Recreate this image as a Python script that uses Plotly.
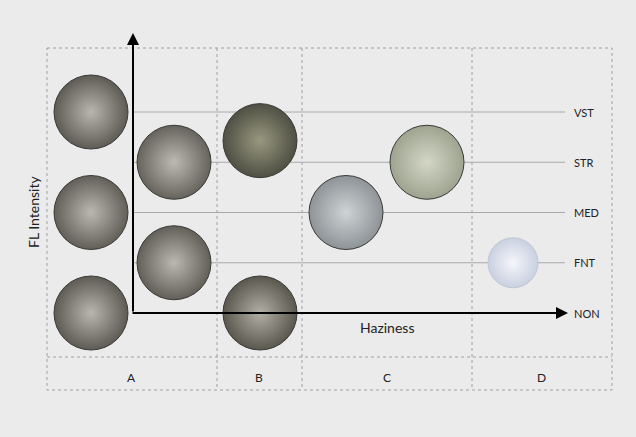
import plotly.graph_objects as go

levels = ["NON", "FNT", "MED", "STR", "VST"]
columns = ["A", "B", "C", "D"]
col_centers = [131, 259, 387, 541]
col_edges = [47, 217, 302, 472, 612]

# diamond photos, as (haziness position in px, intensity level)
stone_x = [91, 91, 91, 174, 174, 260, 260, 346, 427]
stone_y = [4, 2, 0, 3, 1, 3.43, 0, 2, 3]
stone_edge = ["#5e5b55", "#625f58", "#5e5b55", "#66635c", "#625f58",
              "#4f4f44", "#5a574e", "#8d9396", "#9ea390"]
stone_core = ["#b9b6b0", "#bbb8b2", "#b9b6b0", "#bdbab4", "#bbb8b2",
              "#98987f", "#b2afa6", "#cfd3d6", "#d4d7c6"]
oval_x = [513]
oval_y = [1]

px = 50.25

fig = go.Figure()

# level guide lines
for i, lab in enumerate(levels):
    if i > 0:
        fig.add_shape(type="line", x0=133, x1=565, y0=i, y1=i, layer="below",
                      line=dict(color="#a9a9a9", width=1))
    fig.add_annotation(x=572, y=i, text=lab, showarrow=False, xanchor="left",
                       font=dict(size=11, color="#222"))

# dashed boxes
top, bot, mid = (313 - 48) / px, (313 - 390) / px, (313 - 357) / px
fig.add_shape(type="rect", x0=47, x1=612, y0=top, y1=bot, layer="below",
              line=dict(color="#a0a0a0", width=1, dash="dot"))
fig.add_shape(type="line", x0=47, x1=612, y0=mid, y1=mid, layer="below",
              line=dict(color="#a0a0a0", width=1, dash="dot"))
for e in col_edges[1:-1]:
    fig.add_shape(type="line", x0=e, x1=e, y0=top, y1=bot, layer="below",
                  line=dict(color="#a0a0a0", width=1, dash="dot"))
for c, lab in zip(col_centers, columns):
    fig.add_annotation(x=c, y=(313 - 377) / px, text=lab, showarrow=False,
                       font=dict(size=12, color="#222"))

fig.add_trace(go.Scatter(
    x=stone_x, y=stone_y, mode="markers", hoverinfo="skip",
    marker=dict(size=74, color=stone_edge, symbol="circle",
                gradient=dict(type="radial", color=stone_core),
                line=dict(color="#3a3a36", width=1))))
fig.add_trace(go.Scatter(
    x=oval_x, y=oval_y, mode="markers", hoverinfo="skip",
    marker=dict(size=50, color="#c9d0e0", symbol="circle",
                gradient=dict(type="radial", color="#f4f6fb"),
                line=dict(color="#c0c6d4", width=1))))

# axes arrows
fig.add_annotation(x=133, y=(313 - 33) / px, ax=133, ay=0, xref="x", yref="y",
                   axref="x", ayref="y", showarrow=True, arrowhead=2,
                   arrowsize=1.2, arrowwidth=2, arrowcolor="#000", text="")
fig.add_annotation(x=568, y=0, ax=131, ay=0, xref="x", yref="y",
                   axref="x", ayref="y", showarrow=True, arrowhead=2,
                   arrowsize=1.2, arrowwidth=2, arrowcolor="#000", text="")
fig.add_annotation(x=387, y=(313 - 327) / px, text="Haziness", showarrow=False,
                   font=dict(size=14, color="#222"))
fig.add_annotation(x=33, y=(313 - 212) / px, text="FL Intensity", showarrow=False,
                   textangle=-90, font=dict(size=14, color="#222"))

fig.update_layout(
    width=636, height=437, margin=dict(l=0, r=0, t=0, b=0),
    paper_bgcolor="#ebebeb", plot_bgcolor="#ebebeb", showlegend=False,
    font=dict(family="Lato"),
    xaxis=dict(range=[0, 636], visible=False, fixedrange=True),
    yaxis=dict(range=[(313 - 437) / px, 313 / px], visible=False, fixedrange=True),
)
fig.write_html("out.html", config={"displayModeBar": False},
               post_script="document.body.style.margin='0';")
